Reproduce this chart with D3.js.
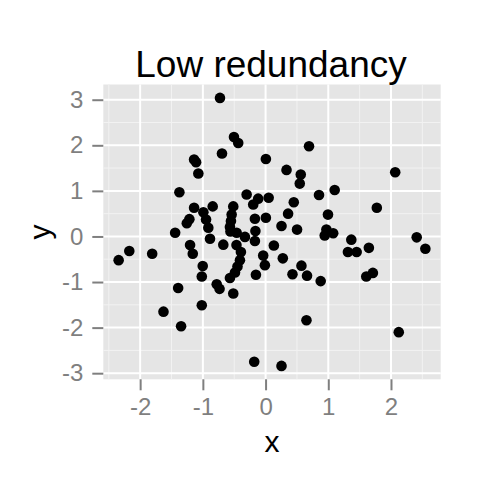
<!DOCTYPE html>
<html>
<head>
<meta charset="utf-8">
<script src="https://d3js.org/d3.v7.min.js"></script>
<style>
  html, body { margin: 0; padding: 0; background: #fff; }
  svg { display: block; font-family: "Liberation Sans", Arial, Helvetica, sans-serif; }
</style>
</head>
<body>
<svg id="chart" width="480" height="480"></svg>
<script>
// values
const xVals = [-0.727, -0.504, -0.436, -0.695, -1.140, -1.108, -1.072, 0.005, 0.693, 0.334,
  0.561, 0.545, 2.067, 0.852, 1.102, 1.774, -1.374, -0.302, -0.118, -0.197,
  0.049, 0.450, -1.140, -0.843, -0.515, -0.992, -1.215, -1.256, -0.949, -0.913,
  -0.541, -0.552, -0.568, -0.560, -0.170, 0.005, -0.162, -0.461, -0.329, -1.442,
  0.359, 0.995, 0.254, 0.502, 0.970, 1.078, 0.943, 1.367, 2.410, 2.548,
  -0.886, -0.674, -0.464, -0.170, -1.204, -1.161, -0.393, -0.409, -0.448, -0.488,
  -0.568, -0.038, -0.011, 0.132, 0.275, 0.572, 0.429, 0.661, 0.879, 1.313,
  1.452, 1.647, 1.606, 1.711, -1.002, -1.017, -0.154, -2.343, -2.173, -1.808,
  -1.394, -0.779, -0.734, -0.515, -1.628, -1.017, -1.347, -0.181, 0.652, 2.124,
  0.254];
const yVals = [3.04, 2.18, 2.05, 1.82, 1.69, 1.63, 1.38, 1.70, 1.98, 1.46,
  1.36, 1.16, 1.41, 0.91, 1.02, 0.63, 0.97, 0.92, 0.83, 0.70,
  0.85, 0.75, 0.63, 0.66, 0.66, 0.53, 0.38, 0.29, 0.37, 0.19,
  0.48, 0.34, 0.21, 0.11, 0.39, 0.41, 0.12, 0.08, -0.01, 0.08,
  0.50, 0.48, 0.23, 0.15, 0.15, 0.07, 0.02, -0.07, -0.02, -0.27,
  -0.05, -0.18, -0.19, -0.10, -0.19, -0.38, -0.34, -0.52, -0.66, -0.79,
  -0.91, -0.42, -0.63, -0.20, -0.48, -0.64, -0.83, -0.86, -0.98, -0.34,
  -0.34, -0.25, -0.88, -0.80, -0.65, -0.88, -0.84, -0.52, -0.32, -0.38,
  -1.13, -1.05, -1.15, -1.25, -1.65, -1.51, -1.97, -2.75, -1.84, -2.10,
  -2.84];
const xBreaks = [-2, -1, 0, 1, 2];
const yBreaks = [-3, -2, -1, 0, 1, 2, 3];
const xMinor = [-2.5, -1.5, -0.5, 0.5, 1.5, 2.5];
const yMinor = [-2.5, -1.5, -0.5, 0.5, 1.5, 2.5];

const points = xVals.map((v, i) => ({ x: v, y: yVals[i] }));

// panel box
const panel = { left: 103.3, right: 440.7, top: 84.5, bottom: 379.3 };

// ggplot style 5% expansion
function expand(ext) {
  const pad = (ext[1] - ext[0]) * 0.05;
  return [ext[0] - pad, ext[1] + pad];
}

const x = d3.scaleLinear().domain(expand(d3.extent(xVals))).range([panel.left, panel.right]);
const y = d3.scaleLinear().domain(expand(d3.extent(yVals))).range([panel.bottom, panel.top]);

const svg = d3.select("#chart");

// background
svg.append("rect")
  .attr("x", panel.left).attr("y", panel.top)
  .attr("width", panel.right - panel.left)
  .attr("height", panel.bottom - panel.top)
  .attr("fill", "#e5e5e5");

const grid = svg.append("g");
// minor grid
grid.selectAll(".vminor").data(xMinor.filter(v => x(v) > panel.left && x(v) < panel.right))
  .enter().append("line")
  .attr("x1", d => x(d)).attr("x2", d => x(d))
  .attr("y1", panel.top).attr("y2", panel.bottom)
  .attr("stroke", "#f2f2f2").attr("stroke-width", 1);
grid.selectAll(".hminor").data(yMinor.filter(v => y(v) > panel.top && y(v) < panel.bottom))
  .enter().append("line")
  .attr("y1", d => y(d)).attr("y2", d => y(d))
  .attr("x1", panel.left).attr("x2", panel.right)
  .attr("stroke", "#f2f2f2").attr("stroke-width", 1);
// major grid
grid.selectAll(".vmajor").data(xBreaks)
  .enter().append("line")
  .attr("x1", d => x(d)).attr("x2", d => x(d))
  .attr("y1", panel.top).attr("y2", panel.bottom)
  .attr("stroke", "#ffffff").attr("stroke-width", 2);
grid.selectAll(".hmajor").data(yBreaks)
  .enter().append("line")
  .attr("y1", d => y(d)).attr("y2", d => y(d))
  .attr("x1", panel.left).attr("x2", panel.right)
  .attr("stroke", "#ffffff").attr("stroke-width", 2);

// points
svg.append("g")
  .selectAll("circle")
  .data(points)
  .enter().append("circle")
  .attr("cx", d => x(d.x))
  .attr("cy", d => y(d.y))
  .attr("r", 5.3)
  .attr("fill", "#000");

// axes
const xAxis = svg.append("g")
  .attr("transform", `translate(0,${panel.bottom})`)
  .call(d3.axisBottom(x).tickValues(xBreaks).tickSize(11).tickPadding(8).tickFormat(d => String(d)));
const yAxis = svg.append("g")
  .attr("transform", `translate(${panel.left},0)`)
  .call(d3.axisLeft(y).tickValues(yBreaks).tickSize(11).tickPadding(9).tickFormat(d => String(d)));

[xAxis, yAxis].forEach(ax => {
  ax.select(".domain").remove();
  ax.selectAll(".tick line").attr("stroke", "#7f7f7f").attr("stroke-width", 2);
  ax.selectAll(".tick text")
    .attr("fill", "#7f7f7f")
    .style("font-size", "24px")
    .style("font-family", "'Liberation Sans', Arial, Helvetica, sans-serif");
});

// titles
const midX = (panel.left + panel.right) / 2;
svg.append("text")
  .attr("x", midX - 1).attr("y", 76.5)
  .attr("text-anchor", "middle")
  .style("font-size", "37px")
  .attr("fill", "#000")
  .text("Low redundancy");

svg.append("text")
  .attr("x", midX).attr("y", 452)
  .attr("text-anchor", "middle")
  .style("font-size", "30px")
  .attr("fill", "#000")
  .text("x");

svg.append("text")
  .attr("transform", `translate(50,${(panel.top + panel.bottom) / 2}) rotate(-90)`)
  .attr("text-anchor", "middle")
  .style("font-size", "30px")
  .attr("fill", "#000")
  .text("y");
</script>
</body>
</html>
